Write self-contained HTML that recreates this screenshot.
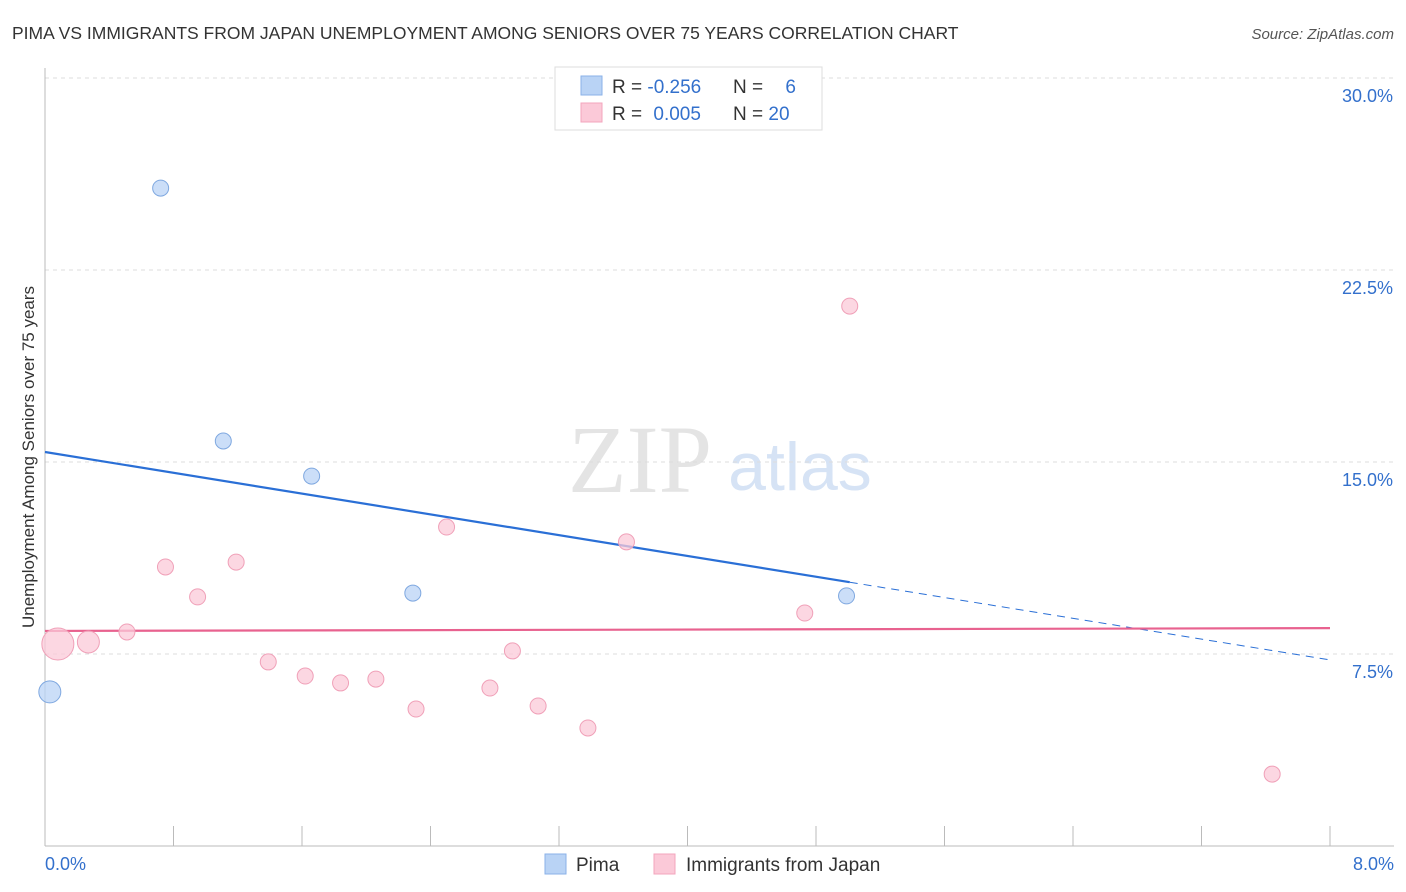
<!DOCTYPE html>
<html><head><meta charset="utf-8"><style>
body{margin:0;background:#fff;font-family:"Liberation Sans",sans-serif;}
svg{display:block}
</style></head><body>
<svg id="chart" width="1406" height="892">
<text x="12" y="39" font-size="17.5" fill="#333">PIMA VS IMMIGRANTS FROM JAPAN UNEMPLOYMENT AMONG SENIORS OVER 75 YEARS CORRELATION CHART</text>
<text x="1394" y="39" font-size="15" fill="#555" font-style="italic" text-anchor="end">Source: ZipAtlas.com</text>
<text x="640" y="492" font-size="96" fill="#e4e4e4" font-family="Liberation Serif" text-anchor="middle">ZIP</text>
<text x="800" y="490" font-size="68" fill="#d6e3f5" text-anchor="middle">atlas</text>
<g id="grid"></g><g id="axes"></g><g id="lines"></g><g id="points"></g>
<text transform="translate(34,457) rotate(-90)" font-size="17" fill="#333" text-anchor="middle">Unemployment Among Seniors over 75 years</text>
<g>
<rect x="555" y="67" width="267" height="63" fill="#fff" stroke="#ddd"/>
<rect x="581" y="76" width="21" height="19" fill="#b9d3f5" stroke="#8ab2e8"/>
<rect x="581" y="103" width="21" height="19" fill="#fbc9d8" stroke="#f3a5bd"/>
<text x="612" y="93" font-size="19" fill="#333">R = <tspan fill="#3370cc">-0.256</tspan></text>
<text x="733" y="93" font-size="19" fill="#333">N =</text><text x="796" y="93" font-size="19" fill="#3370cc" text-anchor="end">6</text>
<text x="612" y="120" font-size="19" fill="#333">R = <tspan fill="#3370cc" dx="6">0.005</tspan></text>
<text x="733" y="120" font-size="19" fill="#333">N = <tspan fill="#3370cc">20</tspan></text>
</g>
<g>
<rect x="545" y="854" width="21" height="20" fill="#b9d3f5" stroke="#8ab2e8"/>
<text x="576" y="871" font-size="19" fill="#333">Pima</text>
<rect x="654" y="854" width="21" height="20" fill="#fbc9d8" stroke="#f3a5bd"/>
<text x="686" y="871" font-size="19" fill="#333">Immigrants from Japan</text>
</g>
</svg>
<script>
const yTicks=[7.5,15,22.5,30];
const yTickLabels=["7.5%","15.0%","22.5%","30.0%"];
const xTickLabels=["0.0%","8.0%"];
const pimaX=[0.03,0.72,1.11,1.66,2.29,4.99];
const pimaY=[6.02,25.7,15.82,14.45,9.88,9.77];
const pimaR=[11,8,8,8,8,8];
const japanX=[0.08,0.27,0.51,0.75,0.95,1.19,1.39,1.62,1.84,2.06,2.31,2.50,2.77,2.91,3.07,3.38,3.62,4.73,5.01,7.64];
const japanY=[7.89,7.97,8.36,10.90,9.73,11.09,7.19,6.64,6.37,6.52,5.35,12.46,6.17,7.62,5.47,4.61,11.88,9.10,21.09,2.81];
const japanR=[16,11,8,8,8,8,8,8,8,8,8,8,8,8,8,8,8,8,8,8];
const pimaTrend=[15.39,7.27];
const japanTrend=[8.40,8.51];
const pimaSolidEnd=5.01;
const NS="http://www.w3.org/2000/svg";
const X=v=>45+v/8*1285, Y=v=>846-v/30*768;
function mk(p,t,a){const e=document.createElementNS(NS,t);for(const k in a)e.setAttribute(k,a[k]);document.getElementById(p).appendChild(e);return e;}
yTicks.forEach((t,i)=>{
 const l=mk('grid','line',{x1:45,x2:1394,y1:Y(t),y2:Y(t),stroke:'#ddd','stroke-dasharray':'4,4'});
 
 
 const tx=mk('grid','text',{x:1393,y:Y(t)+24,'font-size':18,fill:'#3370cc','text-anchor':'end'});
 tx.textContent=yTickLabels[i];
 
 
});
const ax=mk('axes','line',{x1:45,x2:45,y1:68,y2:846,stroke:'#bbb'});


const bx=mk('axes','line',{x1:45,x2:1394,y1:846,y2:846,stroke:'#bbb'});


for(let i=1;i<=10;i++){const t=mk('axes','line',{x1:X(i*0.8),x2:X(i*0.8),y1:826,y2:846,stroke:'#bbb'});
 
 }
[[0,'start',45],[8,'end',1394]].forEach((d,i)=>{const t=mk('axes','text',{x:d[2],y:870,'font-size':18,fill:'#3370cc','text-anchor':d[1]});t.textContent=xTickLabels[i];
 
 });
const py=x=>pimaTrend[0]+(pimaTrend[1]-pimaTrend[0])*x/8;
const pl=mk('lines','line',{x1:X(0),y1:Y(py(0)),x2:X(pimaSolidEnd),y2:Y(py(pimaSolidEnd)),stroke:'#2a6fd6','stroke-width':2.2});


const pd=mk('lines','line',{x1:X(pimaSolidEnd),y1:Y(py(pimaSolidEnd)),x2:X(8),y2:Y(py(8)),stroke:'#2a6fd6','stroke-width':1,'stroke-dasharray':'8,6'});


const jl=mk('lines','line',{x1:X(0),y1:Y(japanTrend[0]),x2:X(8),y2:Y(japanTrend[1]),stroke:'#e8628f','stroke-width':2.2});


japanX.forEach((x,i)=>{const c=mk('points','circle',{cx:X(x),cy:Y(japanY[i]),r:japanR[i],fill:'#fbc9d8','fill-opacity':0.75,stroke:'#f0a0b8'});
 
 });
pimaX.forEach((x,i)=>{const c=mk('points','circle',{cx:X(x),cy:Y(pimaY[i]),r:pimaR[i],fill:'#b9d3f5','fill-opacity':0.75,stroke:'#7fa8e0'});
 
 });
</script>
</body></html>
